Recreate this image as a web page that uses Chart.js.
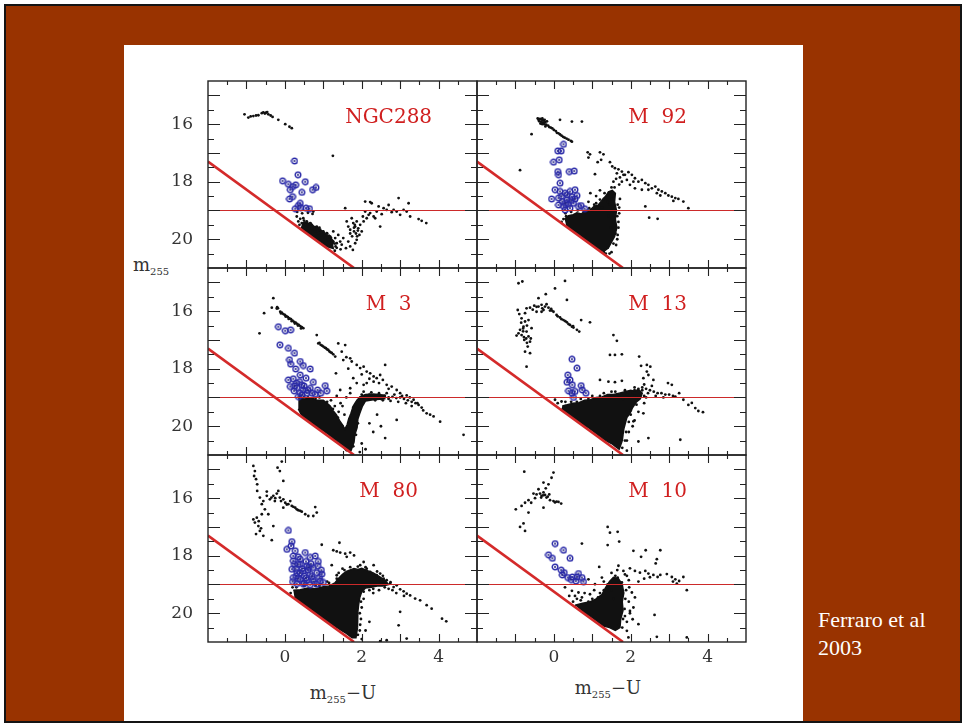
<!DOCTYPE html>
<html>
<head>
<meta charset="utf-8">
<script src="https://cdn.jsdelivr.net/npm/chart.js@4.4.0/dist/chart.umd.min.js"></script>
<style>
  body { margin: 0; background: #fff; }
  #slide { position: absolute; left: 4px; top: 4px; width: 954px; height: 715px; background: #993300; border: 2px solid #141414; }
  #paper { position: absolute; left: 124px; top: 45px; width: 679px; height: 676px; background: #fff; }
  canvas { position: absolute; }
  .ttl { position: absolute; font-family: "DejaVu Serif", serif; font-size: 18px; color: #333; white-space: nowrap; }
  .ttl sub { font-size: 10px; vertical-align: -4px; }
  #cite { position: absolute; left: 818px; top: 606px; font-family: "Liberation Serif", "Times New Roman", serif; font-size: 22px; line-height: 28px; color: #fff; }
</style>
</head>
<body>
<div id="slide"></div>
<div id="paper"></div>
<div class="ttl" style="left:133px; top:254px;">m<sub>255</sub></div>
<div class="ttl" style="left:343px; top:682px; transform:translateX(-50%);">m<sub>255</sub>−U</div>
<div class="ttl" style="left:608px; top:677px; transform:translateX(-50%);">m<sub>255</sub>−U</div>
<div id="cite">Ferraro et al<br>2003</div>
<div id="plots"></div>
<script>
// axes
var xRange = [-2, 5];
var yRange = [14.5, 21];
var xTickLabels = [0, 2, 4];
var yTickLabels = [16, 18, 20];
// selection lines
var cutLine = [[-2, 17.3], [1.8, 21]];
var hbLine = [[-2, 19], [5, 19]];
var clusterNames = ['NGC288', 'M  92', 'M  3', 'M  13', 'M  80', 'M  10'];

// ---- NGC 288
var ngc288Stars = [[-1.05,15.66],[-0.95,15.77],[-0.89,15.73],[-0.82,15.72],[-0.75,15.70],[-0.69,15.69],[-0.60,15.62],[-0.56,15.59],[-0.52,15.63],[-0.49,15.60],[-0.46,15.58],[-0.43,15.66],[-0.37,15.70],[-0.32,15.75],[-0.17,15.85],[0.01,16.0],[0.12,16.09],[0.18,16.14],
  [1.25,17.1],[0.32,19.05],[0.45,19.1],[0.6,19.08],[0.72,19.12],
  [0.31,19.21],[0.35,19.38],[0.40,19.29],[0.44,19.44],[0.48,19.27],[0.53,19.50],[0.57,19.38],[0.61,19.56],[0.66,19.44],[0.70,19.64],[0.74,19.04],[0.79,19.73],[0.83,19.56],[0.87,19.79],[0.92,19.67],[0.96,19.85],[1.00,19.73],[1.05,19.96],[1.09,19.79],[1.13,20.02],[1.18,19.91],[1.22,20.08],[1.26,19.73],[1.31,19.96],[1.35,20.14],[1.39,19.85],[1.44,20.08],[1.48,20.19],[1.52,19.96],[1.59,20.31],[1.65,20.08],[1.70,20.25],[1.77,20.37],[1.83,20.14],[1.87,20.02],
  [1.57,18.92],[1.61,19.38],[1.65,19.56],[1.70,19.67],[1.74,19.27],[1.78,19.44],[1.80,19.73],[1.83,19.56],[1.87,19.38],[1.91,19.62],[1.94,19.85],[1.96,19.50],[2.00,19.73],[2.03,19.21],[2.05,19.38],[2.09,19.04],[2.13,19.27],[2.18,19.15],[2.22,19.09],[2.26,18.75],[2.31,19.21],[2.35,19.27],[2.39,19.04],[2.48,19.56],[2.52,19.13],[2.57,18.92],[2.65,18.98],[2.70,18.81],[2.78,19.06],[2.83,18.98],[2.91,19.04],[2.96,18.57],[3.00,19.15],[3.09,18.98],[3.17,19.04],[3.22,18.75],[3.26,19.21],[3.48,19.30],[3.56,19.36],[3.68,19.44],[2.09,18.69],[2.22,18.71],[2.44,18.86],
  [1.8,19.6],[1.85,19.8],[1.9,19.7],[1.75,19.9],[1.82,19.5],[1.88,19.9],[1.7,19.8],[1.35,20.3],[1.45,20.35],[1.3,20.4],
  [0.5,19.35],[0.58,19.42],[0.66,19.48],[0.9,19.6],[1.1,19.8],[1.2,19.95],[1.3,20.15],[1.32,20.25],[0.38,19.5]];
var ngc288Bss = [[0.25,17.28],[0.34,17.76],[0.53,18.0],[-0.06,17.97],[0.09,18.09],[0.20,18.17],[0.28,18.11],[0.14,18.28],[0.44,18.37],[0.72,18.28],[0.81,18.2],[0.12,18.6],[0.20,18.52],[0.40,18.75],[0.41,18.9],[0.27,18.94],[0.55,18.92],[0.64,18.94],[0.35,18.83]];
var ngc288Core = [[0.45,19.45],[0.52,19.4],[0.6,19.46],[0.68,19.44],[0.75,19.55],[0.85,19.58],[0.92,19.7],[1.0,19.72],[1.08,19.85],[1.16,19.86],[1.22,20.0],[1.28,20.08],[1.24,20.2],[1.26,20.32],[1.15,20.28],[1.05,20.22],[0.95,20.1],[0.85,20.06],[0.75,19.96],[0.65,19.86],[0.55,19.77],[0.48,19.66],[0.42,19.58]];

// ---- M 92
var m92Stars = [[-0.42,15.8],[-0.4,15.85],[-0.36,15.82],[-0.32,15.84],[-0.3,15.8],[-0.28,15.86],[-0.24,15.85],[-0.38,15.9],[-0.33,15.92],[-0.28,15.94],[-0.23,15.93],[-0.18,15.9],[-0.35,15.98],[-0.3,16.0],[-0.25,16.0],[-0.2,16.02],[-0.15,16.05],[-0.22,16.08],[-0.12,16.1],[-0.08,16.12],[-0.04,16.15],[0.0,16.2],[0.05,16.24],[0.08,16.3],[0.12,16.32],[0.16,16.36],[0.2,16.4],[0.24,16.44],[0.28,16.47],[0.33,16.5],[0.38,16.54],[0.44,16.58],[0.47,16.61],[0.16,15.85],[0.47,15.91],[0.73,15.91],[-0.58,16.35],[-0.88,17.6],
  [0.88,16.98],[0.94,17.05],[1.2,16.98],[1.29,17.05],[0.9,17.16],[1.23,17.24],[1.14,17.32],[1.46,17.32],[1.07,17.74],[2.38,18.86],[2.48,19.25],[2.7,19.29],[3.5,18.92],
  [1.52,17.47],[1.59,17.53],[1.68,17.57],[1.77,17.65],[1.64,17.71],[1.85,17.76],[1.94,17.67],[2.03,17.76],[2.11,17.88],[1.90,17.94],[2.2,18.0],[2.29,17.94],[2.38,18.05],[2.46,18.11],[2.55,18.23],[2.64,18.17],[2.72,18.28],[2.81,18.34],[2.9,18.4],[2.98,18.48],[3.07,18.52],[3.16,18.57],[3.24,18.6],[3.37,18.69],[1.77,18.0],[1.98,18.11],[2.29,18.28],[2.11,18.23],[2.68,18.40],[1.81,17.76],[2.07,18.0],[2.46,18.28],[2.77,18.48],[3.11,18.67],[1.72,17.85],[1.62,17.9],[1.7,18.1],[1.58,18.2],
  [1.55,18.0],[1.5,18.2],[1.45,18.4],[1.5,18.6],[1.45,18.8],[1.5,19.0],[1.42,19.2],[1.55,19.4],[1.48,19.6],[1.6,19.8],[1.65,20.0],[1.55,18.5],[1.4,18.7],[1.65,19.2],[1.68,19.6],[1.7,18.9],
  [0.95,18.4],[1.1,18.5],[1.2,18.3],[1.3,18.6],[1.25,18.9],[1.05,18.8],[0.9,18.7],[0.85,19.05],[1.0,19.0],[0.3,19.1],[0.25,19.3],[0.2,19.4],[1.4,20.3],[1.5,20.45],[1.45,20.5],[1.3,20.45],[1.62,20.2],
  [0.32,19.2],[0.45,19.05],[0.62,19.0],[0.78,19.02],[0.92,18.92],[1.1,18.75],[1.2,18.62],[1.32,18.4],[1.66,18.8],[1.68,19.4],[1.66,19.85],[1.55,20.15],[1.35,20.5],[1.7,19.1],[1.72,18.6]];
var m92Bss = [[0.25,16.70],[0.19,16.93],[0.10,16.93],[0.14,17.24],[-0.01,17.32],[0.10,17.65],[0.12,17.76],[0.40,17.65],[0.53,17.63],[0.16,18.05],[0.03,18.28],[0.16,18.34],[0.29,18.40],[0.42,18.34],[0.55,18.28],[-0.06,18.60],[0.12,18.57],[0.22,18.69],[0.34,18.63],[0.47,18.52],[0.60,18.48],[0.12,18.81],[0.25,18.86],[0.38,18.78],[0.51,18.75],[0.71,18.83],[0.29,18.98],[0.42,18.92],[0.64,18.86],[0.80,18.94],[0.2,18.5],[0.35,18.45],[0.45,18.65],[0.3,18.75],[0.55,18.6]];
var m92Core = [[0.28,19.3],[0.38,19.18],[0.5,19.15],[0.6,19.08],[0.72,19.12],[0.82,19.0],[0.95,18.98],[1.05,18.85],[1.15,18.82],[1.25,18.65],[1.35,18.5],[1.42,18.35],[1.52,18.3],[1.6,18.4],[1.58,18.7],[1.63,19.0],[1.6,19.3],[1.64,19.6],[1.58,19.9],[1.5,20.1],[1.42,20.3],[1.3,20.42],[1.18,20.38],[1.05,20.25],[0.92,20.12],[0.8,20.0],[0.68,19.88],[0.55,19.76],[0.42,19.64],[0.32,19.52]];

// ---- M 3
var m3Stars = [[-0.30,15.55],[-0.34,15.88],[-0.2,15.86],[-0.18,15.9],[-0.21,15.91],[-0.12,16.02],[-0.08,16.05],[-0.04,16.1],[0.0,16.13],[0.04,16.17],[0.08,16.21],[0.12,16.25],[0.16,16.28],[0.2,16.33],[0.24,16.37],[0.28,16.4],[0.32,16.44],[0.36,16.48],[0.4,16.52],[0.44,16.56],[0.48,16.59],[-0.1,16.08],[0.02,16.19],[0.1,16.27],[0.18,16.35],[0.26,16.43],[0.34,16.5],[0.42,16.6],[-0.54,16.07],[-0.66,16.77],
  [0.83,16.83],[0.87,17.12],[0.93,17.17],[1.0,17.23],[1.07,17.29],[1.13,17.35],[1.19,17.43],[1.26,17.5],[1.31,17.58],[0.9,17.1],[0.97,17.2],[1.04,17.27],[1.1,17.33],[1.16,17.4],[1.22,17.45],[1.39,17.12],[1.57,17.18],[1.48,17.41],[1.70,17.64],[1.74,17.75],[1.87,17.87],[1.96,17.98],[2.05,17.93],[2.13,18.1],[2.22,18.16],[2.31,18.27],[2.39,18.33],[2.48,18.22],[2.61,17.87],[1.78,18.33],[1.87,18.5],[2.05,18.56],[2.13,18.5],[2.31,18.45],[2.55,18.39],[2.65,18.56],[2.78,18.62],[2.91,18.74],[3.0,18.85],[3.17,18.93],[3.35,19.08],[3.48,19.26],[3.56,19.35],[3.69,19.55],[3.78,19.6],[3.87,19.66],[4.04,19.84],[4.65,20.3],[1.33,18.16],[1.44,18.74],[1.70,18.68],[2.61,20.41],[2.91,19.78],[1.6,17.6],[1.52,17.7],[1.65,18.0],[2.0,18.2],[2.2,18.35],[2.45,18.5],[2.7,18.7],[3.25,19.0],[3.6,19.45],[3.45,19.2],[3.3,19.3],[2.4,19.6],[2.2,19.9],[2.3,20.2],[2.0,20.6],[2.1,20.8],[1.95,20.9],[2.5,20.0],
  [2.0,18.9],[2.1,18.95],[2.2,18.9],[2.3,18.95],[2.4,18.92],[2.5,18.97],[2.6,18.95],[2.7,19.0],[2.8,18.98],[2.9,19.02],[3.0,19.0],[3.1,19.05],[3.2,19.1],[3.3,19.15],[3.4,19.2],[2.15,19.05],[2.35,19.1],[2.55,19.1],[2.75,19.12],[2.95,19.15],[3.15,19.2],[2.05,18.8],[2.25,18.82],[2.45,18.85],[2.65,18.85],[2.85,18.9],[3.05,18.95],
  [1.2,19.1],[1.3,19.3],[1.4,19.5],[1.5,19.3],[1.55,19.6],[1.45,19.2],[1.35,18.95],[1.6,19.0],[1.7,18.85],[0.5,18.98],[0.9,19.0],
  [0.4,18.95],[0.6,19.0],[0.8,19.02],[1.1,19.15],[1.25,19.4],[1.38,19.7],[1.5,20.0],[1.68,19.75],[1.78,19.35],[1.9,19.1],[2.0,19.0],[1.95,19.4],[1.9,19.9],[1.85,20.3],[1.78,20.7],[2.7,19.05],[2.5,19.05]];
var m3Bss = [[-0.17,16.54],[0.01,16.68],[0.15,16.65],[-0.13,17.17],[0.09,17.29],[0.25,17.46],[0.12,17.69],[0.40,17.75],[0.48,17.89],[0.15,17.84],[0.28,18.01],[0.66,18.01],[0.09,18.39],[0.22,18.35],[0.38,18.45],[0.55,18.33],[0.74,18.47],[0.14,18.62],[0.31,18.66],[0.48,18.74],[0.66,18.68],[0.85,18.74],[0.40,18.85],[0.57,18.85],[0.79,18.89],[1.05,18.59],[1.09,18.77],[0.93,18.85],[0.35,18.97],[0.24,18.77],[0.40,18.22],[0.44,18.56],[0.3,18.5],[0.5,18.6],[0.6,18.75],[0.7,18.85],[0.45,18.9],[0.25,18.6]];
var m3Core = [[0.35,19.0],[0.5,19.05],[0.7,19.02],[0.85,19.1],[1.0,19.1],[1.1,19.2],[1.18,19.3],[1.25,19.45],[1.34,19.6],[1.42,19.8],[1.5,19.95],[1.56,20.1],[1.62,19.95],[1.66,19.75],[1.72,19.55],[1.78,19.3],[1.85,19.15],[1.95,18.98],[2.1,18.9],[2.3,18.88],[2.6,18.92],[2.6,19.05],[2.3,19.08],[2.1,19.12],[2.02,19.3],[1.95,19.55],[1.9,19.75],[1.88,20.05],[1.82,20.3],[1.8,20.55],[1.72,20.85],[1.6,20.85],[1.5,20.7],[1.4,20.55],[1.3,20.48],[1.2,20.35],[1.1,20.25],[1.0,20.15],[0.9,20.08],[0.8,19.97],[0.7,19.9],[0.6,19.78],[0.5,19.7],[0.42,19.58],[0.35,19.4]];

// ---- M 13
var m13Stars = [[-0.92,15.03],[-0.82,14.97],[0.03,15.21],[0.29,14.95],[-0.40,15.55],[-0.21,15.41],[0.34,15.61],[-0.71,15.9],[-0.62,15.88],[-0.51,15.81],[-0.40,15.84],[-0.32,15.78],[-0.23,15.84],[-0.14,15.88],[-0.07,15.92],[-0.01,16.02],[0.07,16.13],[0.16,16.22],[0.25,16.31],[0.34,16.39],[0.42,16.48],[0.51,16.57],[0.60,16.65],[0.66,16.71],[0.94,16.39],[0.71,16.31],[-0.94,15.96],[-0.84,16.25],[-0.75,16.36],[-0.79,16.54],[-0.92,16.77],[-0.84,16.83],[-0.71,16.71],[-0.66,16.88],[-0.77,17.0],[-0.62,17.06],[-0.75,17.41],[-0.62,17.46],[-0.71,17.93],[-0.97,16.85],[-0.58,16.59],[-0.66,16.31],[-0.45,16.02],[-0.32,16.02],[-0.19,15.76],[-0.27,15.96],[-0.75,16.07],[-0.88,16.65],[-0.68,17.23],[0.47,16.54],[-0.55,15.95],[-0.1,15.98],[0.2,16.28],[0.38,16.45],[-0.8,16.7],[-0.72,16.95],[-0.85,16.4],
  [-0.45,15.85],[-0.3,15.9],[-0.05,15.98],[0.1,16.18],[0.3,16.35],[0.5,16.52],[-0.9,16.1],[-0.8,16.6],[-0.7,16.5],[-0.78,16.9],[-0.7,17.1],[-0.6,16.95],
  [1.55,16.83],[1.64,17.03],[1.46,17.52],[1.59,17.52],[1.77,17.5],[2.22,17.58],[1.20,18.39],[1.42,18.45],[1.59,18.47],[1.77,18.42],[2.27,17.9],[2.42,17.87],[2.51,17.93],[2.42,18.1],[2.46,18.22],[2.33,18.33],[2.59,18.39],[2.97,18.5],[3.07,18.56],[3.26,18.85],[3.16,18.97],[3.37,19.08],[3.5,19.26],[3.68,19.37],[3.76,19.47],[3.88,19.51],[3.59,19.19],[3.29,20.47],[2.46,20.41],[2.2,20.53],[2.33,19.55],[2.07,19.83],[0.03,19.08],[0.2,19.14],
  [1.9,18.9],[2.0,18.8],[2.1,18.75],[2.2,18.7],[2.3,18.65],[2.4,18.7],[2.5,18.75],[2.6,18.8],[2.7,18.85],[2.8,18.85],[2.9,18.9],[3.0,18.9],[3.1,18.95],[2.05,18.9],[2.25,18.85],[2.45,18.85],[2.65,18.95],[2.85,19.0],[2.35,18.55],[2.55,18.6],[1.95,19.0],[2.15,18.95],[1.8,19.05],[1.7,18.95],
  [0.1,19.2],[0.3,19.15],[0.25,19.45],[0.6,19.15],[0.9,19.05],[1.2,18.95],[1.5,18.8],[1.9,19.5],[2.0,19.6],[2.1,19.8],[1.95,20.2],[1.9,20.5],[2.2,19.5],[2.35,19.2],[2.4,19.0],[2.05,20.0],[1.9,20.85],
  [0.3,19.3],[0.45,19.15],[0.7,19.05],[1.0,18.95],[1.3,18.85],[1.6,18.8],[1.85,18.75],[2.1,18.65],[2.3,18.75],[2.35,18.95],[2.15,19.25],[2.0,19.45],[1.95,19.85],[1.88,20.2],[1.85,20.5],[1.78,20.75]];
var m13Bss = [[0.47,17.67],[0.60,17.98],[0.36,18.22],[0.42,18.39],[0.48,18.56],[0.38,18.77],[0.47,18.85],[0.55,18.79],[0.71,18.59],[0.74,18.74],[0.83,18.85],[0.51,19.0],[0.34,18.47]];
var m13Core = [[0.22,19.3],[0.35,19.25],[0.5,19.2],[0.65,19.18],[0.8,19.1],[0.95,19.08],[1.1,19.0],[1.25,18.98],[1.4,18.9],[1.55,18.9],[1.7,18.85],[1.85,18.8],[2.0,18.75],[2.1,18.78],[2.2,18.72],[2.3,18.85],[2.25,19.05],[2.15,19.15],[2.05,19.35],[1.98,19.55],[1.9,19.7],[1.86,19.9],[1.82,20.1],[1.8,20.3],[1.78,20.5],[1.7,20.8],[1.6,20.7],[1.5,20.6],[1.35,20.5],[1.2,20.35],[1.05,20.2],[0.9,20.05],[0.75,19.95],[0.6,19.8],[0.45,19.68],[0.35,19.55],[0.2,19.4]];

// ---- M 80
var m80Stars = [[-0.82,14.88],[-0.78,15.06],[-0.80,15.23],[-0.75,15.34],[-0.72,15.52],[-0.08,14.73],[-0.19,14.94],[-0.13,15.06],[-0.04,15.4],[-0.65,15.98],[-0.56,16.1],[-0.47,15.92],[-0.39,16.04],[-0.30,15.92],[-0.21,15.84],[-0.13,15.98],[-0.04,16.04],[0.01,16.16],[0.09,16.21],[0.18,16.27],[0.27,16.33],[0.35,16.42],[0.44,16.47],[0.53,16.56],[0.61,16.62],[0.79,16.31],[0.83,16.5],[0.74,16.62],[-0.60,16.56],[-0.73,16.68],[-0.78,16.85],[-0.69,16.97],[-0.65,17.14],[-0.75,17.25],[-0.56,17.31],[-0.34,17.46],[-0.30,16.97],[-0.82,16.74],[-0.43,16.56],[-0.52,16.39],[-0.6,16.21],[-0.26,16.1],[-0.17,15.75],[-0.04,16.33],[0.14,16.1],[0.31,16.39],[-0.72,15.75],[-0.47,15.77],[-0.35,15.98],[-0.25,16.0],[-0.1,16.1],[0.05,16.22],[0.22,16.3],[0.4,16.44],[-0.68,16.8],[-0.62,17.05],
  [0.96,17.62],[1.26,17.81],[1.35,17.85],[1.44,17.89],[1.57,17.93],[1.70,17.89],[1.80,17.99],[1.42,17.55],[1.61,18.04],[1.22,18.33],[1.35,18.68],
  [1.96,18.33],[2.05,18.22],[2.13,18.45],[2.22,18.56],[2.31,18.33],[2.39,18.68],[2.48,18.62],[2.57,18.8],[2.65,18.85],[2.74,18.97],[2.83,19.09],[2.91,19.03],[3.0,19.17],[3.09,19.24],[3.17,19.32],[3.26,19.38],[3.39,19.49],[3.52,19.55],[3.69,19.72],[3.82,19.84],[4.09,20.19],[4.20,20.28],[3.0,19.95],[2.96,20.42],[2.65,20.94],[2.48,20.97],[3.17,20.88],[2.8,19.2],[2.9,19.3],[3.1,19.4],[2.7,19.15],[2.2,20.3],[2.1,20.6],[2.0,20.9],
  [1.1,18.9],[0.9,19.05],[1.2,19.1],[1.4,18.6],[1.5,18.45],[2.2,19.2],[2.3,19.3],[2.05,19.5],[2.0,19.8],[1.98,20.2],[1.95,20.6],[0.2,19.1],[0.15,19.3],
  [0.3,19.1],[0.5,19.05],[0.8,19.05],[1.15,18.95],[1.35,18.8],[1.55,18.5],[1.7,18.4],[1.9,18.38],[2.1,18.4],[2.4,18.55],[2.55,18.7],[2.75,18.92],[2.6,19.1],[2.3,19.15],[2.05,19.25],[1.98,19.6],[1.95,20.0],[1.96,20.4],[1.9,20.75],[2.5,18.9],[2.45,19.2]];
var m80Bss = [[0.09,17.12],[0.18,17.51],[0.16,17.66],[0.05,17.78],[0.27,17.83],[0.35,18.04],[0.53,17.89],[0.66,18.06],[0.79,18.01],[0.87,18.2],[0.22,18.18],[0.40,18.3],[0.57,18.35],[0.74,18.41],[0.18,18.47],[0.31,18.59],[0.48,18.53],[0.66,18.62],[0.83,18.59],[0.96,18.64],[0.22,18.76],[0.40,18.82],[0.57,18.85],[0.74,18.82],[0.92,18.88],[0.31,18.97],[0.48,18.99],[0.66,19.01],[0.83,18.99],[1.0,18.93],[0.40,18.12],[0.22,18.01],[0.3,18.7],[0.5,18.7],[0.7,18.72],[0.45,18.45],[0.6,18.5],[0.25,18.3],[0.55,18.2],[0.9,18.75],
  [0.35,18.8],[0.55,18.78],[0.75,18.9],[0.2,18.9],[0.4,18.6],[0.62,18.4],[0.85,18.35],[0.95,18.5],[0.28,18.45],[0.5,18.95],[0.68,18.28],[0.35,18.3]];
var m80Core = [[0.22,19.2],[0.4,19.18],[0.6,19.12],[0.8,19.15],[1.0,19.08],[1.15,19.05],[1.3,18.95],[1.4,18.78],[1.5,18.65],[1.6,18.55],[1.7,18.5],[1.8,18.45],[1.9,18.48],[2.0,18.44],[2.15,18.52],[2.3,18.6],[2.45,18.72],[2.6,18.85],[2.7,19.0],[2.55,19.05],[2.4,19.05],[2.25,19.1],[2.1,19.12],[2.0,19.25],[1.95,19.45],[1.92,19.7],[1.9,19.95],[1.88,20.2],[1.9,20.5],[1.85,20.85],[1.75,20.85],[1.6,20.7],[1.45,20.58],[1.3,20.45],[1.15,20.32],[1.0,20.18],[0.85,20.05],[0.7,19.9],[0.55,19.78],[0.4,19.62],[0.25,19.45]];

// ---- M 10
var m10Stars = [[-0.77,15.08],[-0.01,15.11],[-0.06,15.29],[-0.14,15.52],[-0.27,15.46],[-0.40,15.69],[-0.53,15.84],[-0.45,15.87],[-0.36,15.84],[-0.32,15.92],[-0.23,15.89],[-0.19,15.98],[-0.10,16.07],[-0.01,16.1],[0.07,16.12],[0.19,16.19],[-0.27,15.8],[-0.21,15.66],[-0.75,16.16],[-0.84,16.27],[-0.99,16.39],[-0.66,16.5],[-0.88,17.0],[-0.75,17.14],[-0.79,16.88],[-0.27,16.33],[-0.59,16.16],[-0.49,16.0],[-0.66,16.07],[-0.33,15.98],[-0.12,15.87],[-0.28,15.9],[-0.16,15.95],[0.03,16.15],[0.12,16.13],
  [1.40,17.0],[1.46,17.2],[1.66,17.17],[1.70,17.51],[0.73,17.58],[1.40,17.63],[1.18,18.39],[2.07,17.83],[2.39,17.81],[2.77,17.81],[2.27,18.04],[2.68,18.12],[2.65,18.27],[1.98,18.44],[2.11,18.53],[2.24,18.59],[2.38,18.53],[2.46,18.62],[2.59,18.67],[2.7,18.74],[2.77,18.67],[2.94,18.64],[3.07,18.74],[3.16,18.82],[3.26,18.88],[3.37,18.74],[3.2,18.97],[3.46,19.2],[2.62,20.06],[2.68,20.82],[3.46,20.84],[2.2,20.38],[2.05,20.21],[1.9,20.61],[1.94,20.84],[1.68,18.35],[1.81,18.53],[1.90,18.7],[1.66,18.76],[1.77,18.93],[1.25,18.76],[1.07,18.99],[0.9,18.82],[0.29,19.1],[0.47,19.22],[0.64,19.28],[0.73,19.45],[0.94,19.34],[1.96,19.1],[2.03,19.28],[2.11,19.45],[2.07,19.8],[1.98,19.92],[2.2,18.9],[2.35,18.8],[2.5,18.75],[3.1,18.9],
  [0.6,19.5],[0.9,19.6],[1.0,19.5],[1.2,19.3],[1.3,19.2],[1.5,19.2],[1.55,19.5],[1.95,19.6],[1.98,20.0],[1.7,20.4],[1.9,20.3],[1.3,18.9],[1.5,18.6],[1.65,18.5],[1.85,18.65],[1.95,18.85],[0.4,19.4],[0.55,19.4],[0.8,19.3],[1.05,19.2],
  [0.5,19.6],[0.7,19.55],[1.15,19.45],[1.4,19.0],[1.6,18.7],[1.88,19.2],[1.86,19.5],[1.84,19.85],[1.8,20.2],[1.78,20.5],[1.85,20.1]];
var m10Bss = [[0.03,17.58],[0.25,17.81],[0.42,18.09],[-0.14,17.97],[-0.04,18.09],[0.03,18.39],[0.19,18.5],[0.27,18.59],[0.22,18.67],[0.36,18.76],[0.48,18.74],[0.64,18.62],[0.73,18.76],[0.57,18.88],[0.45,18.83],[0.77,18.9],[0.6,18.74]];
var m10Core = [[0.55,19.72],[0.75,19.65],[0.95,19.6],[1.1,19.5],[1.25,19.35],[1.35,19.1],[1.45,18.9],[1.55,18.75],[1.68,18.8],[1.78,19.0],[1.82,19.3],[1.78,19.6],[1.8,19.9],[1.74,20.2],[1.72,20.5],[1.6,20.6],[1.45,20.5],[1.3,20.45],[1.15,20.3],[1.0,20.15],[0.85,20.02],[0.7,19.9]];

var panels = [
  { name: clusterNames[0], stars: ngc288Stars, bss: ngc288Bss, core: ngc288Core, col: 0, row: 0 },
  { name: clusterNames[1], stars: m92Stars, bss: m92Bss, core: m92Core, col: 1, row: 0 },
  { name: clusterNames[2], stars: m3Stars, bss: m3Bss, core: m3Core, col: 0, row: 1 },
  { name: clusterNames[3], stars: m13Stars, bss: m13Bss, core: m13Core, col: 1, row: 1 },
  { name: clusterNames[4], stars: m80Stars, bss: m80Bss, core: m80Core, col: 0, row: 2 },
  { name: clusterNames[5], stars: m10Stars, bss: m10Bss, core: m10Core, col: 1, row: 2 }
];

// plot boxes on the page
var colLeft = [208, 477];
var rowTop = [81, 268, 455];
var plotW = 269, plotH = 187;
var pad = { left: 80, top: 10, right: 10, bottom: 60 };

function pts(arr) {
  return arr.map(function (p) { return { x: p[0], y: p[1] }; });
}

// blue ring marker for the blue stragglers
var ring = document.createElement('canvas');
ring.width = 8; ring.height = 8;
var rc = ring.getContext('2d');
rc.strokeStyle = '#2a2aa8';
rc.lineWidth = 1.4;
rc.beginPath(); rc.arc(4, 4, 2.8, 0, Math.PI * 2); rc.stroke();
rc.fillStyle = '#24247e';
rc.beginPath(); rc.arc(4, 4, 1.0, 0, Math.PI * 2); rc.fill();

var framePlugin = {
  id: 'frame',
  afterDatasetsDraw: function (chart, args, opts) {
    var ctx = chart.ctx, a = chart.chartArea, x = chart.scales.x, y = chart.scales.y;
    ctx.save();
    ctx.strokeStyle = '#222';
    ctx.lineWidth = 1.4;
    ctx.strokeRect(a.left, a.top, a.right - a.left, a.bottom - a.top);
    ctx.lineWidth = 1.1;
    ctx.beginPath();
    for (var v = -1.5; v <= 4.51; v += 0.5) {
      var px = Math.round(x.getPixelForValue(v)) + 0.5;
      var len = (v % 1 === 0) ? 8 : 4;
      ctx.moveTo(px, a.bottom); ctx.lineTo(px, a.bottom - len);
      ctx.moveTo(px, a.top); ctx.lineTo(px, a.top + len);
    }
    for (var w = 15; w <= 20.51; w += 0.5) {
      var py = Math.round(y.getPixelForValue(w)) + 0.5;
      var len2 = (w % 1 === 0) ? 12 : 6;
      ctx.moveTo(a.left, py); ctx.lineTo(a.left + len2, py);
      ctx.moveTo(a.right, py); ctx.lineTo(a.right - len2, py);
    }
    ctx.stroke();

    ctx.fillStyle = '#333';
    ctx.font = '17px "DejaVu Serif"';
    ctx.textBaseline = 'middle';
    if (opts.yLabels) {
      ctx.textAlign = 'right';
      yTickLabels.forEach(function (t) { ctx.fillText(String(t), a.left - 15, y.getPixelForValue(t)); });
    }
    if (opts.xLabels) {
      ctx.textAlign = 'center';
      xTickLabels.forEach(function (t) { ctx.fillText(String(t), x.getPixelForValue(t), a.bottom + 16); });
    }
    ctx.fillStyle = '#d01f1f';
    ctx.font = '20px "DejaVu Serif"';
    ctx.textAlign = 'center';
    ctx.fillText(opts.name, x.getPixelForValue(2.7), y.getPixelForValue(15.78));
    ctx.restore();
  }
};

var holder = document.getElementById('plots');
panels.forEach(function (p) {
  var cv = document.createElement('canvas');
  cv.width = plotW + pad.left + pad.right;
  cv.height = plotH + pad.top + pad.bottom;
  cv.style.left = (colLeft[p.col] - pad.left) + 'px';
  cv.style.top = (rowTop[p.row] - pad.top) + 'px';
  holder.appendChild(cv);

  new Chart(cv.getContext('2d'), {
    type: 'scatter',
    data: {
      datasets: [
        { data: pts(cutLine), showLine: true, borderColor: '#d42a2a', borderWidth: 2.6, pointRadius: 0, order: 0 },
        { data: pts(hbLine), showLine: true, borderColor: '#cc2a2a', borderWidth: 1.1, pointRadius: 0, order: 0 },
        { data: pts(p.bss), pointStyle: ring, pointRadius: 4, order: 1 },
        { data: pts(p.stars), pointRadius: 1.4, backgroundColor: '#111', borderWidth: 0, order: 2 },
        { data: pts(p.core), showLine: true, fill: 'shape', backgroundColor: '#111', borderColor: '#111', borderWidth: 1.5, pointRadius: 0, tension: 0, order: 3 }
      ]
    },
    options: {
      responsive: false,
      animation: false,
      devicePixelRatio: 1,
      events: [],
      layout: { padding: pad },
      scales: {
        x: { type: 'linear', min: xRange[0], max: xRange[1], display: false },
        y: { type: 'linear', min: yRange[0], max: yRange[1], reverse: true, display: false }
      },
      plugins: {
        legend: { display: false },
        tooltip: { enabled: false },
        frame: { name: p.name, yLabels: p.col === 0, xLabels: p.row === 2 }
      }
    },
    plugins: [framePlugin]
  });
});
</script>
</body>
</html>
